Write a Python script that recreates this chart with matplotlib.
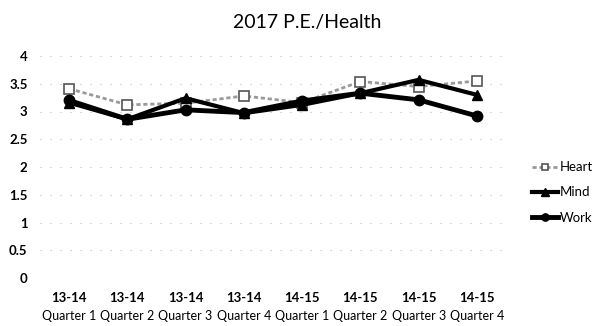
import matplotlib.pyplot as plt
import matplotlib.transforms as mtransforms
import numpy as np

plt.rcParams['font.family'] = ['Lato', 'DejaVu Sans']

years = ["13-14", "13-14", "13-14", "13-14", "14-15", "14-15", "14-15", "14-15"]
quarter_names = ["Quarter 1", "Quarter 2", "Quarter 3", "Quarter 4",
                 "Quarter 1", "Quarter 2", "Quarter 3", "Quarter 4"]
heart = [3.41, 3.12, 3.15, 3.28, 3.16, 3.54, 3.45, 3.55]
mind = [3.16, 2.86, 3.24, 2.97, 3.12, 3.33, 3.57, 3.30]
work = [3.20, 2.86, 3.03, 2.98, 3.19, 3.33, 3.21, 2.92]

fig = plt.figure(figsize=(6.08, 3.26), dpi=100)
ax = fig.add_axes([40/608, 48/326, 466/608, 222/326])

x = np.arange(len(years))
ax.plot(x, heart, color='#9a9a9a', lw=2, ls=(0, (1.5, 1)), marker='s', ms=6.5,
        mfc='white', mec='#555555', mew=1.2, label='Heart', zorder=3)
ax.plot(x, mind, color='black', lw=3, marker='^', ms=7.5, label='Mind', zorder=4)
ax.plot(x, work, color='black', lw=3.5, marker='o', ms=7.5, label='Work', zorder=4)

ax.set_xlim(-0.5, len(years) - 0.5)
ax.set_ylim(0, 4)
ax.set_yticks(np.arange(0, 4.01, 0.5))
ax.set_yticklabels(['0', '0.5', '1', '1.5', '2', '2.5', '3', '3.5', '4'])
ax.set_xticks(x)
ax.set_xticklabels(years)
ax.tick_params(length=0, labelsize=9.5, pad=10)
ax.tick_params(axis='y', pad=9)
for lab in ax.get_xticklabels() + ax.get_yticklabels():
    lab.set_fontweight('bold')

# second line of the category labels, regular weight
trans = mtransforms.blended_transform_factory(ax.transData, fig.transFigure)
for xi, q in zip(x, quarter_names):
    ax.text(xi, 4/326, q, transform=trans, ha='center', va='bottom', fontsize=9)

ax.grid(axis='y', color='#bbbbbb', lw=0.8, ls=(0, (1, 8)))
for s in ax.spines.values():
    s.set_visible(False)

fig.text(0.505, 0.93, '2017 P.E./Health', ha='center', va='center', fontsize=14)

fig.legend(loc='center left', bbox_to_anchor=(520/608, 0.41), frameon=False,
           handlelength=2.0, handletextpad=0.1, labelspacing=1.0, fontsize=9.5,
           markerscale=0.7)

fig.savefig('out.png', dpi=100)
